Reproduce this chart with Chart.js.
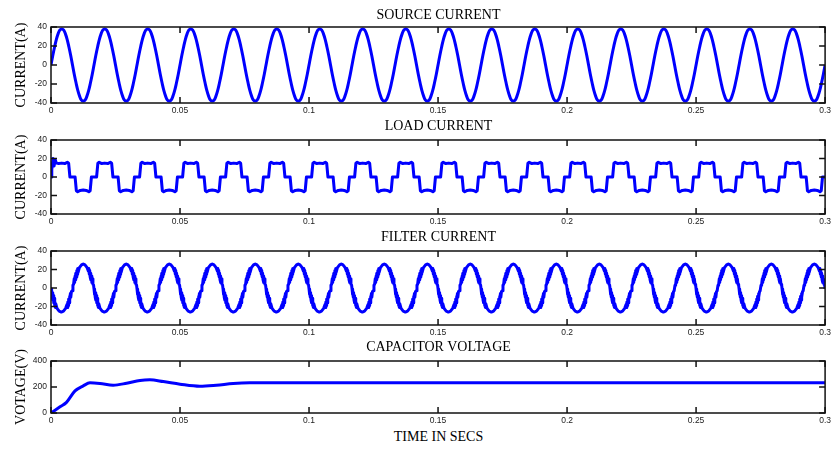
<!DOCTYPE html>
<html>
<head>
<meta charset="utf-8">
<script src="https://cdn.jsdelivr.net/npm/chart.js@4.4.1/dist/chart.umd.min.js"></script>
<style>
body { margin: 0; background: #fff; width: 834px; height: 450px; position: relative; overflow: hidden; }
.box { position: absolute; left: 0; width: 834px; }
.ttl { position: absolute; left: 51px; width: 775px; text-align: center; font-family: 'Liberation Serif', serif; font-size: 14px; line-height: 14px; color: #000; z-index: 2; }
</style>
</head>
<body>
<div class="box" style="top:15px;height:104px"><canvas id="c1"></canvas></div>
<div class="box" style="top:128px;height:102px"><canvas id="c2"></canvas></div>
<div class="box" style="top:239px;height:102px"><canvas id="c3"></canvas></div>
<div class="box" style="top:341px;height:88px"><canvas id="c4"></canvas></div>
<div class="ttl" style="top:8px">SOURCE CURRENT</div>
<div class="ttl" style="top:119px">LOAD CURRENT</div>
<div class="ttl" style="top:230px">FILTER CURRENT</div>
<div class="ttl" style="top:340px">CAPACITOR VOLTAGE</div>
<div class="ttl" style="top:430px">TIME IN SECS</div>
<script>
// time axis
var tEnd = 0.3;
var cycles = 18;   // fundamental cycles seen in 0.3 s
var xTicks = [0, 0.05, 0.1, 0.15, 0.2, 0.25, 0.3];
var currentTicks = [-40, -20, 0, 20, 40];
var voltTicks = [0, 200, 400];

// one cycle of source current, 24 samples
var sourceCycle = [0, 10, 19, 27, 33, 37, 38, 37, 33, 27, 19, 10, 0, -10, -19, -27, -33, -37, -38, -37, -33, -27, -19, -10];

// one cycle of load current (phase within cycle, amps)
var loadPhase = [0, 0.06, 0.09, 0.12, 0.18, 0.25, 0.32, 0.38, 0.41, 0.44, 0.56, 0.59, 0.62, 0.68, 0.75, 0.82, 0.88, 0.91, 0.94];
var loadCycle = [0, 0, 15, 16, 14.5, 15, 14.5, 16, 15, 0, 0, -15, -16, -14.5, -14, -14.5, -16, -15, 0];
// start-up spike of the load current
var loadStartT = [0, 0.0003, 0.0008, 0.0012, 0.0016, 0.0021];
var loadStartV = [0, 8, 20, 12, 19, 15];

// one cycle of filter current (phase within cycle, amps), ripple on the slopes
var filterPhase = [0, 0.01, 0.018, 0.028, 0.036, 0.046, 0.054, 0.064, 0.072, 0.082, 0.09, 0.1, 0.11, 0.14, 0.19, 0.24, 0.29, 0.34,
                   0.37, 0.38, 0.39, 0.4, 0.41, 0.42, 0.43, 0.44, 0.45, 0.46, 0.475, 0.49, 0.51, 0.525,
                   0.54, 0.55, 0.56, 0.57, 0.58, 0.59, 0.6, 0.61, 0.62, 0.63, 0.66, 0.71, 0.75, 0.79, 0.84,
                   0.87, 0.88, 0.89, 0.9, 0.91, 0.92, 0.93, 0.94, 0.95, 0.96, 0.975, 0.99];
var filterCycle = [-1, -7, -2, -10, -5, -13, -8, -16, -11, -19, -14, -21, -17, -22, -25, -26, -25, -22,
                   -18, -21, -15, -19, -12, -16, -9, -13, -6, -10, -4, -3, 3, 4,
                   10, 6, 13, 9, 16, 12, 19, 15, 21, 17, 22, 25, 26, 25, 22,
                   18, 21, 15, 19, 12, 16, 9, 13, 6, 10, 4, 3];

// capacitor voltage
var capT = [0, 0.0035, 0.006, 0.0093, 0.0125, 0.0151, 0.019, 0.0241, 0.0293, 0.0345, 0.0383, 0.0435, 0.05, 0.0577, 0.0641, 0.0706, 0.077, 0.1, 0.3];
var capV = [0, 48, 82, 170, 209, 232, 227, 214, 229, 250, 255, 242, 222, 206, 214, 227, 232, 232, 232];

function tile(phase, vals, startT, startV) {
    var T = tEnd / cycles;
    var pts = [];
    var t0 = -1;
    if (startT) {
        for (var i = 0; i < startT.length; i++) pts.push({x: startT[i], y: startV[i]});
        t0 = startT[startT.length - 1];
    }
    for (var c = 0; c < cycles; c++) {
        for (var k = 0; k < phase.length; k++) {
            var t = (c + phase[k]) * T;
            if (t > t0) pts.push({x: t, y: vals[k]});
        }
    }
    pts.push({x: tEnd, y: vals[0]});
    return pts;
}

var sourcePhase = sourceCycle.map(function (v, k) { return k / sourceCycle.length; });
var capPts = capT.map(function (t, i) { return {x: t, y: capV[i]}; });

// inward tick marks and box, MATLAB style
var frame = {
    id: 'frame',
    afterDatasetsDraw: function (chart) {
        var ctx = chart.ctx, a = chart.chartArea, x = chart.scales.x, y = chart.scales.y;
        ctx.save();
        ctx.strokeStyle = '#111';
        ctx.lineWidth = 1.5;
        ctx.beginPath();
        x.ticks.forEach(function (t) {
            var px = x.getPixelForValue(t.value);
            ctx.moveTo(px, a.bottom); ctx.lineTo(px, a.bottom - 6);
            ctx.moveTo(px, a.top); ctx.lineTo(px, a.top + 6);
        });
        y.ticks.forEach(function (t) {
            var py = y.getPixelForValue(t.value);
            ctx.moveTo(a.left, py); ctx.lineTo(a.left + 6, py);
            ctx.moveTo(a.right, py); ctx.lineTo(a.right - 6, py);
        });
        ctx.stroke();
        ctx.strokeRect(a.left, a.top, a.right - a.left, a.bottom - a.top);
        ctx.restore();
    }
};

function makeChart(id, pts, yTicks, yTitle, tension, padTop) {
    return new Chart(document.getElementById(id), {
        type: 'line',
        data: {
            datasets: [{
                data: pts,
                borderColor: '#0000ff',
                borderWidth: 3,
                borderJoinStyle: 'round',
                pointRadius: 0,
                fill: false,
                tension: tension,
                cubicInterpolationMode: id === 'c4' ? 'monotone' : 'default'
            }]
        },
        options: {
            animation: false,
            responsive: true,
            maintainAspectRatio: false,
            layout: { autoPadding: false, padding: { top: padTop, right: 8, left: 0, bottom: 0 } },
            plugins: { legend: { display: false }, tooltip: { enabled: false } },
            scales: {
                x: {
                    type: 'linear',
                    min: 0,
                    max: tEnd,
                    grid: { display: false, drawTicks: false, tickLength: 0 },
                    border: { display: false },
                    afterBuildTicks: function (s) { s.ticks = xTicks.map(function (v) { return {value: v}; }); },
                    afterFit: function (s) { s.height = 16; },
                    ticks: {
                        padding: 3,
                        maxRotation: 0,
                        color: '#222',
                        font: { family: 'Liberation Sans', size: 8.5 },
                        callback: function (v) { return String(+v.toFixed(2)); }
                    }
                },
                y: {
                    min: yTicks[0],
                    max: yTicks[yTicks.length - 1],
                    grid: { display: false, drawTicks: false, tickLength: 0 },
                    border: { display: false },
                    afterBuildTicks: function (s) { s.ticks = yTicks.map(function (v) { return {value: v}; }); },
                    afterFit: function (s) { s.width = 51; },
                    title: {
                        display: true,
                        text: yTitle,
                        color: '#000',
                        font: { family: 'Liberation Serif', size: 14 },
                        padding: { top: 13, bottom: 0 }
                    },
                    ticks: {
                        padding: 4,
                        color: '#222',
                        font: { family: 'Liberation Sans', size: 8.5 }
                    }
                }
            }
        },
        plugins: [frame]
    });
}

makeChart('c1', tile(sourcePhase, sourceCycle), currentTicks, 'CURRENT(A)', 0.4, 12);
makeChart('c2', tile(loadPhase, loadCycle, loadStartT, loadStartV), currentTicks, 'CURRENT(A)', 0, 12);
makeChart('c3', tile(filterPhase, filterCycle), currentTicks, 'CURRENT(A)', 0, 12);
makeChart('c4', capPts, voltTicks, 'VOTAGE(V)', 0.3, 20);
</script>
</body>
</html>
